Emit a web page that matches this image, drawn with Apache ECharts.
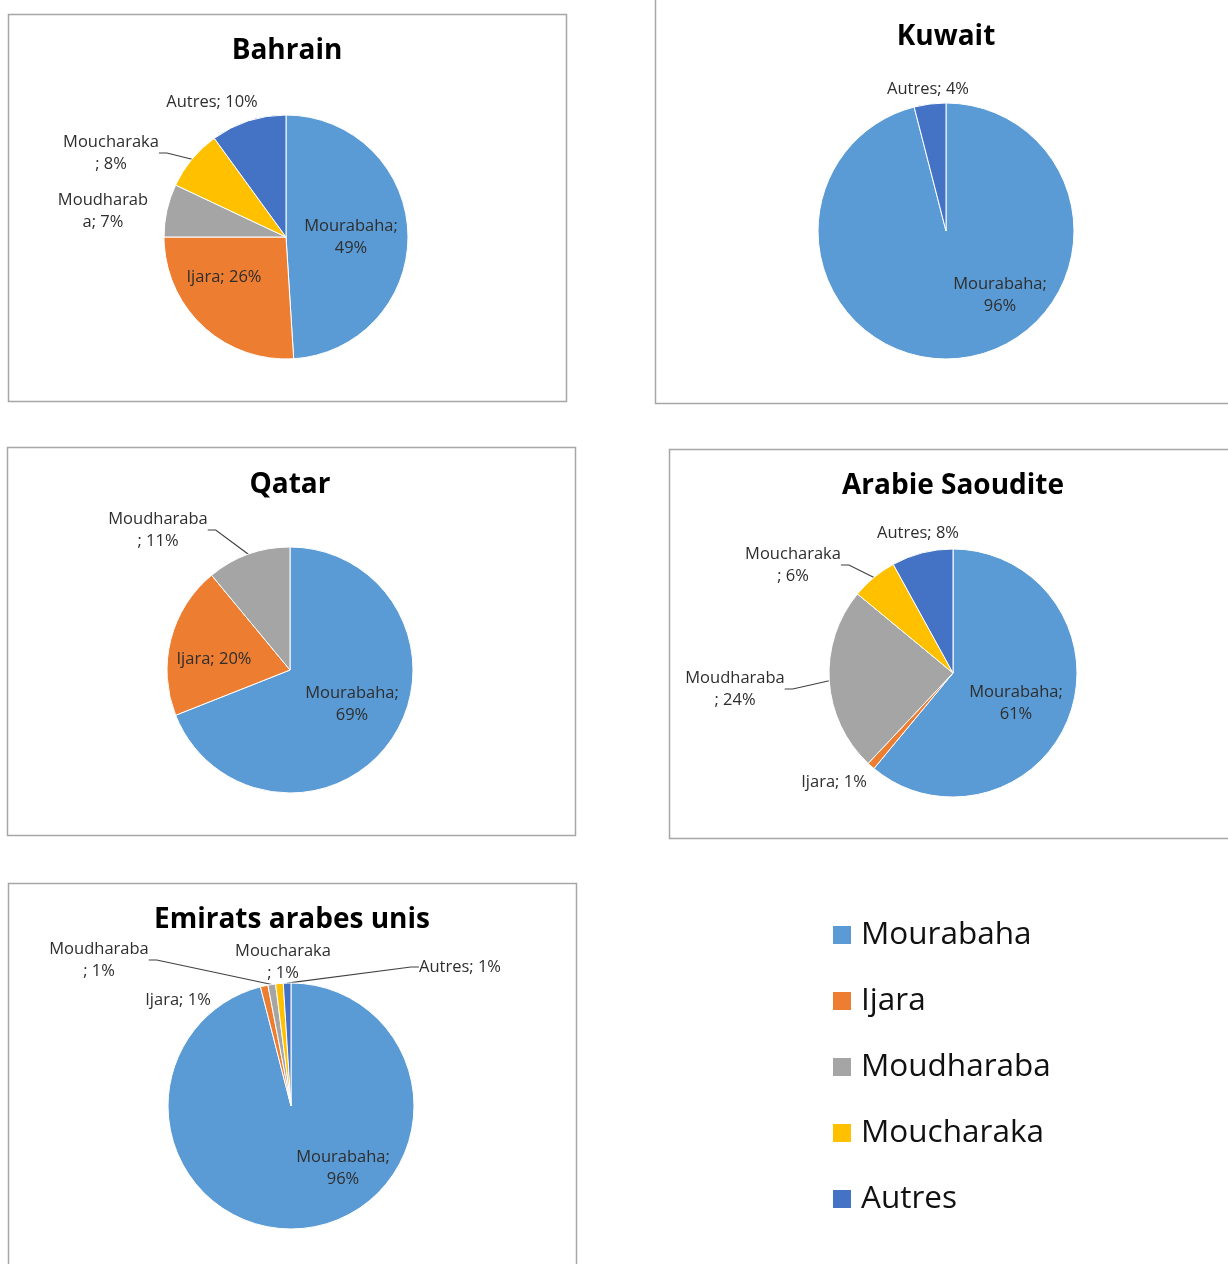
<!DOCTYPE html>
<html>
<head>
<meta charset="utf-8">
<script src="https://cdn.jsdelivr.net/npm/echarts@6/dist/echarts.min.js"></script>
<style>html,body{margin:0;padding:0;background:#fff}#c{width:1228px;height:1264px}</style>
</head>
<body>
<div id="c"></div>
<script>
// ---- DATA ----
const categories = ['Mourabaha', 'Ijara', 'Moudharaba', 'Moucharaka', 'Autres'];
const countries = ['Bahrain', 'Kuwait', 'Qatar', 'Arabie Saoudite', 'Emirats arabes unis'];
const bahrain = [49, 26, 7, 8, 10];
const kuwait = [96, null, null, null, 4];
const qatar = [69, 20, 11, null, null];
const arabieSaoudite = [61, 1, 24, 6, 8];
const emirats = [96, 1, 1, 1, 1];
const values = [bahrain, kuwait, qatar, arabieSaoudite, emirats];

// ---- STYLE / LAYOUT ----
const F = '"Open Sans", "Noto Sans", sans-serif';
const colors = ['#5B9BD5', '#ED7D31', '#A5A5A5', '#FFC000', '#4472C4'];
const panelLayout = [
  { box: [8, 14, 558, 387], title: [287, 51], center: [286, 237], radius: 122,
    labels: [{off: [65, 0], br: 10}, {off: [-62, 40]}, {off: [-183, -26], br: 9}, {off: [-175, -84], br: 10, line: true}, {off: [-74, -135]}] },
  { box: [655, -5, 620, 408], title: [946, 37], center: [946, 231], radius: 128,
    labels: [{off: [54, 64], br: 10}, null, null, null, {off: [-18, -142]}] },
  { box: [7, 447, 568, 388], title: [290, 485], center: [290, 670], radius: 123,
    labels: [{off: [62, 34], br: 10}, {off: [-76, -11]}, {off: [-132, -140], br: 10, line: true}, null, null] },
  { box: [669, 449, 600, 389], title: [953, 486], center: [953, 673], radius: 124,
    labels: [{off: [63, 30], br: 10}, {off: [-119, 109]}, {off: [-218, 16], br: 10, line: true}, {off: [-160, -108], br: 10, line: true}, {off: [-35, -140]}] },
  { box: [8, 883, 568, 420], title: [292, 920], center: [291, 1106], radius: 123,
    labels: [{off: [52, 62], br: 10}, {off: [-113, -106]}, {off: [-192, -146], br: 10, line: true}, {off: [-8, -144], br: 10}, {off: [169, -139], line: true}] }
];

const graphics = [];
panelLayout.forEach((L, p) => {
  graphics.push({ type: 'rect', z: 0, silent: true,
    shape: { x: L.box[0] + 0.5, y: L.box[1] + 0.5, width: L.box[2], height: L.box[3] },
    style: { fill: 'none', stroke: '#a6a6a6', lineWidth: 1.5 } });
  graphics.push({ type: 'text', z: 10, silent: true, x: L.title[0], y: L.title[1],
    style: { text: countries[p], fontSize: 28, fontWeight: 'bold', fontFamily: F, fill: '#000',
             align: 'center', verticalAlign: 'middle' } });
});

const series = values.map((vals, p) => {
  const L = panelLayout[p];
  const idx = [];
  const data = [];
  vals.forEach((v, i) => {
    if (v == null) return;
    idx.push(i);
    const lc = L.labels[i] || {};
    data.push({ name: categories[i], value: v, itemStyle: { color: colors[i] }, labelLine: { show: !!lc.line } });
  });
  return {
    type: 'pie', name: countries[p], center: L.center, radius: L.radius,
    startAngle: 90, clockwise: true, avoidLabelOverlap: false, animation: false, silent: true,
    emphasis: { disabled: true },
    itemStyle: { borderColor: '#ffffff', borderWidth: 1 },
    label: {
      show: true, position: 'outside', fontSize: 16.5, fontFamily: F, color: '#2e2e2e', lineHeight: 22,
      formatter: (prm) => {
        const lc = L.labels[idx[prm.dataIndex]] || {};
        let t = prm.name + '; ' + prm.value + '%';
        if (lc.br) t = t.slice(0, lc.br) + '\n' + t.slice(lc.br).replace(/^ /, '');
        return t;
      }
    },
    labelLine: { length: 10, length2: 8, smooth: false, lineStyle: { color: '#404040', width: 1.2 } },
    labelLayout: (prm) => {
      const lc = L.labels[idx[prm.dataIndex]];
      return { x: L.center[0] + lc.off[0], y: L.center[1] + lc.off[1], align: 'center', verticalAlign: 'middle', hideOverlap: false };
    },
    data
  };
});

const chart = echarts.init(document.getElementById('c'), null, { renderer: 'canvas' });
chart.setOption({
  backgroundColor: '#ffffff',
  animation: false,
  legend: {
    data: categories, orient: 'vertical', left: 826, top: 914,
    icon: 'rect', itemWidth: 20, itemHeight: 20, itemGap: 34,
    selectedMode: false,
    textStyle: { fontSize: 31.5, fontFamily: F, color: '#111', lineHeight: 30, padding: [0, 0, 0, 4] }
  },
  graphic: graphics,
  series
});
</script>
</body>
</html>
